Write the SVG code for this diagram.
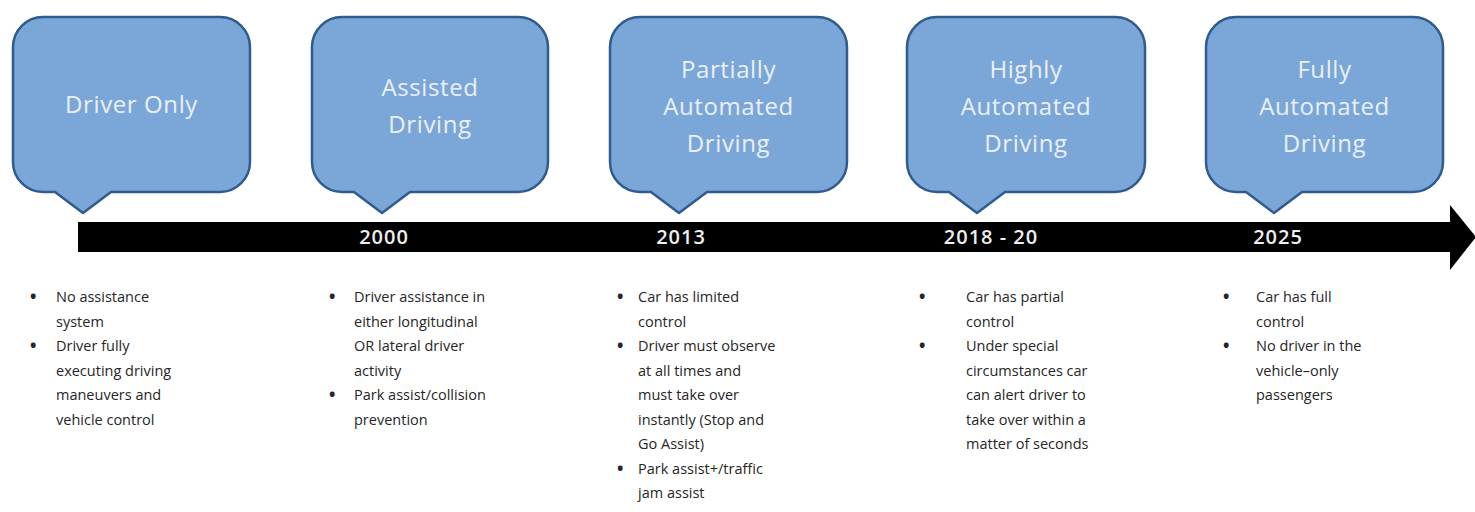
<svg xmlns="http://www.w3.org/2000/svg" width="1475" height="512" viewBox="0 0 1475 512">
<style>
.box{fill:#7ba6d8;stroke:#2f5b8e;stroke-width:2.5;stroke-linejoin:round}
.bt{font-family:"Open Sans","Liberation Sans",sans-serif;font-size:24px;fill:#eaf0f8;text-anchor:middle;letter-spacing:0.6px}
.yr{font-family:"Open Sans","Liberation Sans",sans-serif;font-size:20px;font-weight:600;fill:#efefef;text-anchor:middle;letter-spacing:1px}
.bl{font-family:"Open Sans","Liberation Sans",sans-serif;font-size:14.5px;fill:#262626}
.bu{font-family:"Open Sans","Liberation Sans",sans-serif;font-size:17px;font-weight:bold;fill:#262626}
</style>
<rect width="1475" height="512" fill="#ffffff"/>
<g id="connectors">
<rect x="78" y="222" width="1373" height="30" fill="#000"/>
<polygon points="1450,205 1476,237 1450,270" fill="#000"/>
<text class="yr" x="384" y="244">2000</text>
<text class="yr" x="681" y="244">2013</text>
<text class="yr" x="991" y="244">2018 - 20</text>
<text class="yr" x="1278" y="244">2025</text>
</g>
<g id="node-driver-only">
<path class="box" d="M43,17 H220 A30,30 0 0 1 250,47 V162 A30,30 0 0 1 220,192 H111 L83,213 L55,192 H43 A30,30 0 0 1 13,162 V47 A30,30 0 0 1 43,17 Z"/>
<text class="bt" x="131.5" y="113">Driver Only</text>
</g>
<g id="node-assisted">
<path class="box" d="M342,17 H518 A30,30 0 0 1 548,47 V162 A30,30 0 0 1 518,192 H410 L382,213 L354,192 H342 A30,30 0 0 1 312,162 V47 A30,30 0 0 1 342,17 Z"/>
<text class="bt" x="430" y="96">Assisted</text>
<text class="bt" x="430" y="133">Driving</text>
</g>
<g id="node-partial">
<path class="box" d="M640,17 H817 A30,30 0 0 1 847,47 V162 A30,30 0 0 1 817,192 H707 L679,213 L651,192 H640 A30,30 0 0 1 610,162 V47 A30,30 0 0 1 640,17 Z"/>
<text class="bt" x="728.5" y="78">Partially</text>
<text class="bt" x="728.5" y="115">Automated</text>
<text class="bt" x="728.5" y="152">Driving</text>
</g>
<g id="node-highly">
<path class="box" d="M937,17 H1115 A30,30 0 0 1 1145,47 V162 A30,30 0 0 1 1115,192 H1005 L977,213 L949,192 H937 A30,30 0 0 1 907,162 V47 A30,30 0 0 1 937,17 Z"/>
<text class="bt" x="1026" y="78">Highly</text>
<text class="bt" x="1026" y="115">Automated</text>
<text class="bt" x="1026" y="152">Driving</text>
</g>
<g id="node-fully">
<path class="box" d="M1236,17 H1413 A30,30 0 0 1 1443,47 V162 A30,30 0 0 1 1413,192 H1302 L1274,213 L1246,192 H1236 A30,30 0 0 1 1206,162 V47 A30,30 0 0 1 1236,17 Z"/>
<text class="bt" x="1324.5" y="78">Fully</text>
<text class="bt" x="1324.5" y="115">Automated</text>
<text class="bt" x="1324.5" y="152">Driving</text>
</g>
<g id="notes-driver-only">
<text class="bu" x="30" y="303">•</text>
<text class="bl" x="56" y="302">No assistance</text>
<text class="bl" x="56" y="326.5">system</text>
<text class="bu" x="30" y="352">•</text>
<text class="bl" x="56" y="351">Driver fully</text>
<text class="bl" x="56" y="375.5">executing driving</text>
<text class="bl" x="56" y="400">maneuvers and</text>
<text class="bl" x="56" y="424.5">vehicle control</text>
</g>
<g id="notes-assisted">
<text class="bu" x="329" y="303">•</text>
<text class="bl" x="354" y="302">Driver assistance in</text>
<text class="bl" x="354" y="326.5">either longitudinal</text>
<text class="bl" x="354" y="351">OR lateral driver</text>
<text class="bl" x="354" y="375.5">activity</text>
<text class="bu" x="329" y="401">•</text>
<text class="bl" x="354" y="400">Park assist/collision</text>
<text class="bl" x="354" y="424.5">prevention</text>
</g>
<g id="notes-partial">
<text class="bu" x="617" y="303">•</text>
<text class="bl" x="638" y="302">Car has limited</text>
<text class="bl" x="638" y="326.5">control</text>
<text class="bu" x="617" y="352">•</text>
<text class="bl" x="638" y="351">Driver must observe</text>
<text class="bl" x="638" y="375.5">at all times and</text>
<text class="bl" x="638" y="400">must take over</text>
<text class="bl" x="638" y="424.5">instantly (Stop and</text>
<text class="bl" x="638" y="449">Go Assist)</text>
<text class="bu" x="617" y="474.5">•</text>
<text class="bl" x="638" y="473.5">Park assist+/traffic</text>
<text class="bl" x="638" y="498">jam assist</text>
</g>
<g id="notes-highly">
<text class="bu" x="919" y="303">•</text>
<text class="bl" x="966" y="302">Car has partial</text>
<text class="bl" x="966" y="326.5">control</text>
<text class="bu" x="919" y="352">•</text>
<text class="bl" x="966" y="351">Under special</text>
<text class="bl" x="966" y="375.5">circumstances car</text>
<text class="bl" x="966" y="400">can alert driver to</text>
<text class="bl" x="966" y="424.5">take over within a</text>
<text class="bl" x="966" y="449">matter of seconds</text>
</g>
<g id="notes-fully">
<text class="bu" x="1223" y="303">•</text>
<text class="bl" x="1256" y="302">Car has full</text>
<text class="bl" x="1256" y="326.5">control</text>
<text class="bu" x="1223" y="352">•</text>
<text class="bl" x="1256" y="351">No driver in the</text>
<text class="bl" x="1256" y="375.5">vehicle–only</text>
<text class="bl" x="1256" y="400">passengers</text>
</g>
</svg>
